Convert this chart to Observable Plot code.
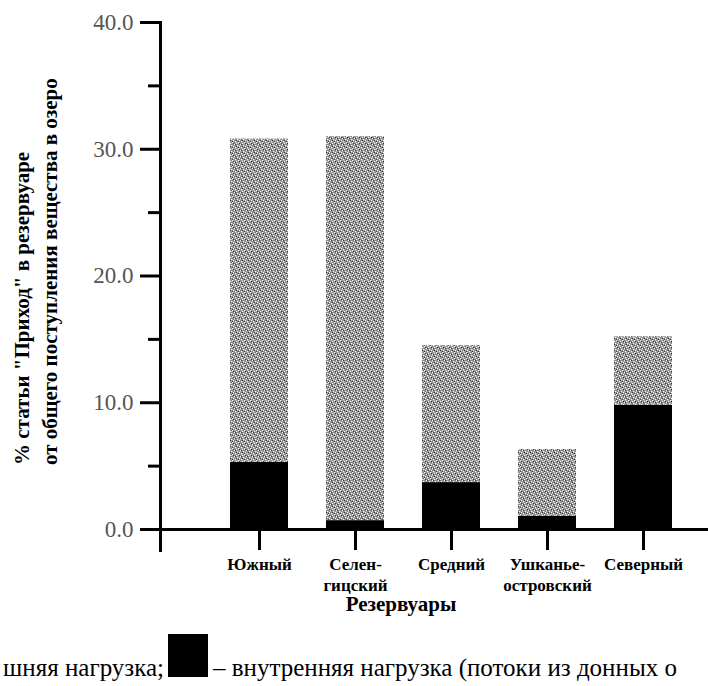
<!DOCTYPE html>
<html><head><meta charset="utf-8">
<style>
body{margin:0;background:#fff;font-family:'Liberation Serif', serif}
#chart svg{display:block}
</style>
<script src="https://cdn.jsdelivr.net/npm/d3@7"></script>
<script src="https://cdn.jsdelivr.net/npm/@observablehq/plot@0.6"></script>
</head><body>
<div id="chart"></div>
<script>
const categories = ["Южный", "Селен-\nгицский", "Средний", "Ушканье-\nостровский", "Северный"];
const internalLoad = [5.3, 0.7, 3.7, 1.05, 9.8];
const externalLoad = [25.5, 30.3, 10.8, 5.25, 5.4];
const loadTypes = ["внутренняя", "внешняя"];
const majorTicks = [0, 10, 20, 30, 40];
const minorTicks = [5, 15, 25, 35];
const yTitle = ["% статьи \"Приход\" в резервуаре", "от общего поступления вещества в озеро"];
const xTitle = "Резервуары";
const legendLeft = "шняя нагрузка;";
const legendRight = "– внутренняя нагрузка (потоки из донных о";

const rows = [];
categories.forEach((c, i) => {
  rows.push({cat: c, type: loadTypes[0], value: internalLoad[i]});
  rows.push({cat: c, type: loadTypes[1], value: externalLoad[i]});
});

const FONT = "Liberation Serif";

const plot = Plot.plot({
  width: 708,
  height: 686,
  marginTop: 22,
  marginBottom: 157,
  marginLeft: 160,
  marginRight: 0,
  style: {background: "#fff", overflow: "visible", fontFamily: FONT},
  x: {domain: categories, paddingInner: 0.4, paddingOuter: 0.526, align: 0.657, axis: null},
  y: {domain: [0, 40], axis: null},
  color: {domain: loadTypes, range: ["#000", "url(#stipple)"]},
  marks: [
    Plot.barY(rows, Plot.stackY({x: "cat", y: "value", fill: "type", order: loadTypes})),
    Plot.frame({anchor: "left", strokeWidth: 3, insetBottom: -21}),
    Plot.ruleY([0], {strokeWidth: 3}),
    Plot.axisY(majorTicks, {tickSize: 20, tickPadding: 7, tickFormat: d3.format(".1f"), fontSize: 23, strokeWidth: 3, stroke: "#000", fill: "#555", label: null, fontFamily: FONT}),
    Plot.axisY(minorTicks, {tickSize: 12, tickFormat: () => "", strokeWidth: 3, stroke: "#000", label: null}),
    Plot.axisX({tickSize: 21, tickPadding: 4, fontSize: 17, fontWeight: "bold", strokeWidth: 3, stroke: "#000", fill: "#000", label: null, lineHeight: 1.25, fontFamily: FONT})
  ]
});

const svg = d3.select(plot);
svg.attr("font-family", FONT);
const defs = svg.insert("defs", ":first-child");
const pat = defs.append("pattern").attr("id", "stipple").attr("patternUnits", "userSpaceOnUse").attr("width", 6).attr("height", 6);
pat.append("rect").attr("width", 6).attr("height", 6).attr("fill", "#8a8a8a");
[[0,0],[3,1],[1,3],[4,4],[2,5],[5,2]].forEach(([x, y]) => pat.append("rect").attr("x", x).attr("y", y).attr("width", 1.3).attr("height", 1.3).attr("fill", "#fff"));
[[2,2],[5,5],[1,0],[4,3]].forEach(([x, y]) => pat.append("rect").attr("x", x).attr("y", y).attr("width", 1).attr("height", 1).attr("fill", "#333"));

// Y title (two rotated lines)
const yt = svg.append("text").attr("font-family", FONT).attr("font-weight", "bold").attr("font-size", 21)
  .attr("transform", "translate(0,465) rotate(-90)").attr("text-anchor", "start");
yt.append("tspan").attr("x", 0).attr("y", 29).text(yTitle[0]);
yt.append("tspan").attr("x", 0).attr("y", 57).text(yTitle[1]);

// X title
svg.append("text").attr("font-family", FONT).attr("font-weight", "bold").attr("font-size", 21)
  .attr("x", 401).attr("y", 611).attr("text-anchor", "middle").text(xTitle);

// Legend line
svg.append("text").attr("font-family", FONT).attr("font-size", 25)
  .attr("x", 164).attr("y", 676).attr("text-anchor", "end").text(legendLeft);
svg.append("rect").attr("x", 168).attr("y", 634).attr("width", 40).attr("height", 43).attr("fill", "#000");
svg.append("text").attr("font-family", FONT).attr("font-size", 25)
  .attr("x", 213).attr("y", 676).attr("text-anchor", "start").text(legendRight);

document.getElementById("chart").appendChild(plot);
</script>
</body></html>
